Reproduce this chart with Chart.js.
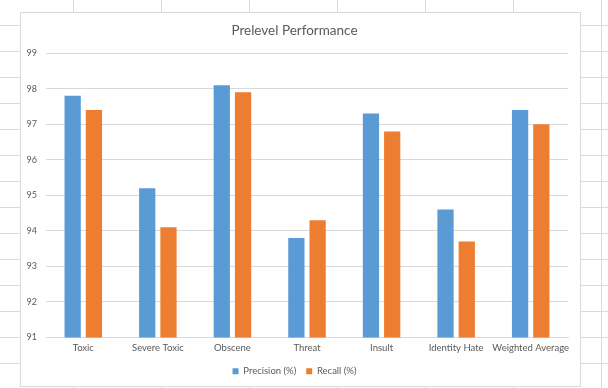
<!DOCTYPE html>
<html>
<head>
<meta charset="utf-8">
<script src="https://cdn.jsdelivr.net/npm/chart.js@4/dist/chart.umd.min.js"></script>
<style>
  html, body { margin: 0; padding: 0; }
  body {
    width: 608px; height: 388px; overflow: hidden; position: relative;
    background-color: #ffffff;
    /* worksheet cell grid behind the chart object */
    background-image:
      linear-gradient(to right, #dadada 1px, transparent 1px),
      linear-gradient(to bottom, #dadada 1px, transparent 1px);
    background-size: 88px 26px;
    background-position: 73px 25px;
  }
  #frame {
    position: absolute; left: 20px; top: 12px;
    width: 561px; height: 375px; box-sizing: border-box;
    background: #ffffff; border: 1px solid #d9d9d9;
  }
  #wrap { position: absolute; left: 0; top: 0; width: 559px; height: 373px; }
</style>
</head>
<body>
<div id="frame"><div id="wrap"><canvas id="chart"></canvas></div></div>
<script>
const categories = ['Toxic', 'Severe Toxic', 'Obscene', 'Threat', 'Insult', 'Identity Hate', 'Weighted Average'];
const precision = [97.8, 95.2, 98.1, 93.8, 97.3, 94.6, 97.4];
const recall = [97.4, 94.1, 97.9, 94.3, 96.8, 93.7, 97.0];
const yTicks = [91, 92, 93, 94, 95, 96, 97, 98, 99];

const FONT = 'Lato, "Liberation Sans", sans-serif';
const TEXT = '#595959';
const GRID = '#d9d9d9';

new Chart(document.getElementById('chart'), {
  type: 'bar',
  data: {
    labels: categories,
    datasets: [
      { label: 'Precision (%)', data: precision, backgroundColor: '#5b9bd5',
        borderColor: '#5b9bd5', borderWidth: 0 },
      { label: 'Recall (%)', data: recall, backgroundColor: '#ed7d31',
        borderColor: '#ed7d31', borderWidth: 0 }
    ]
  },
  options: {
    responsive: true,
    maintainAspectRatio: false,
    animation: false,
    datasets: { bar: { categoryPercentage: 0.57, barPercentage: 0.765 } },
    layout: { padding: { left: 0, right: 12, top: 0, bottom: 0 } },
    plugins: {
      title: {
        display: true,
        text: 'Prelevel Performance',
        color: TEXT,
        font: { family: FONT, size: 13.5, weight: 'normal' },
        padding: { top: 10, bottom: 14 }
      },
      legend: {
        position: 'bottom',
        labels: {
          color: TEXT,
          font: { family: FONT, size: 9.5 },
          boxWidth: 6, boxHeight: 6,
          padding: 10
        }
      },
      tooltip: { enabled: false }
    },
    scales: {
      x: {
        afterFit: (axis) => { axis.height = 19; },
        grid: { display: false, drawTicks: false },
        border: { display: true, color: GRID, width: 1 },
        ticks: { color: TEXT, font: { family: FONT, size: 9.5 }, padding: 5,
                 maxRotation: 0, autoSkip: false }
      },
      y: {
        min: 91, max: 99,
        afterBuildTicks: (axis) => { axis.ticks = yTicks.map(v => ({ value: v })); },
        afterFit: (axis) => { axis.width = 25; },
        grid: { color: GRID, lineWidth: 1, drawTicks: false },
        border: { display: false },
        ticks: { color: TEXT, font: { family: FONT, size: 9 }, padding: 9 }
      }
    }
  }
});
</script>
</body>
</html>
